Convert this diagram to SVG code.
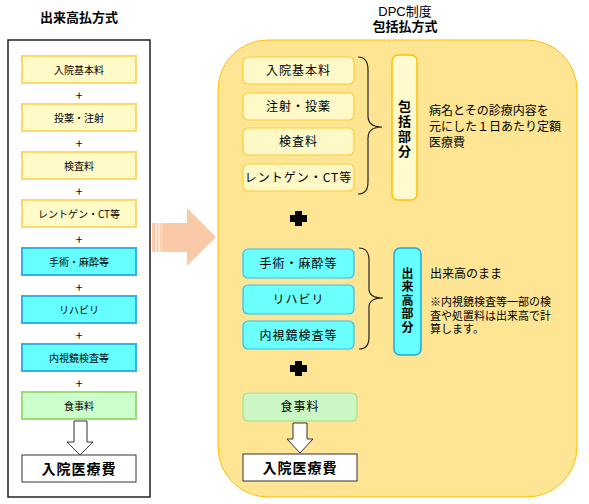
<svg xmlns="http://www.w3.org/2000/svg" width="589" height="504" viewBox="0 0 589 504">
<style>
text{font-family:"Noto Sans CJK JP","Noto Sans",sans-serif;fill:#000}
.t{font-size:13px;font-weight:bold;text-anchor:middle}
.ls{font-size:10px;text-anchor:middle}
.rs{font-size:12px;text-anchor:middle;letter-spacing:1px}
.plus{font-size:12px;text-anchor:middle}
.yl{fill:#FFFBC8;stroke:#FFD966;stroke-width:2}
.cl{fill:#66FFFF;stroke:#2FB4F0;stroke-width:2}
.gl{fill:#CCFFCC;stroke:#99DD77;stroke-width:2}
.yr{fill:#FFF9C8;stroke:#FFCC33;stroke-width:1.2}
.cr{fill:#6CFFFF;stroke:#33BBEE;stroke-width:1.2}
.gr{fill:#CCF7C4;stroke:#A5E08C;stroke-width:1.2}
.wb{fill:#fff;stroke:#333;stroke-width:1}
.harrow{fill:#fff;stroke:#333;stroke-width:1}
.brace{fill:none;stroke:#222;stroke-width:1.2}
.vt{font-weight:bold;text-anchor:middle;writing-mode:vertical-rl;glyph-orientation-vertical:0}
.tight{font-family:"Liberation Sans","Noto Sans CJK JP",sans-serif}
.note{font-size:12px}
.small{font-size:11px}
.fin{font-size:14px;font-weight:bold;text-anchor:middle;letter-spacing:1px}
</style>

<g id="left-title"><text class="t" x="79" y="22">出来高払方式</text></g>
<g id="left-panel"><rect x="8" y="40" width="142" height="457" fill="#fff" stroke="#222" stroke-width="1.5"/></g>

<g id="l1"><rect class="yl" x="22" y="56" width="114" height="27"/><text class="ls" x="79" y="73.5">入院基本料</text></g>
<g id="l2"><rect class="yl" x="22" y="104" width="114" height="27"/><text class="ls" x="79" y="121.5">投薬・注射</text></g>
<g id="l3"><rect class="yl" x="22" y="152" width="114" height="27"/><text class="ls" x="79" y="169.5">検査料</text></g>
<g id="l4"><rect class="yl" x="22" y="200" width="114" height="27"/><text class="ls" x="79" y="217.5">レントゲン・CT等</text></g>
<g id="l5"><rect class="cl" x="22" y="248" width="114" height="27"/><text class="ls" x="79" y="265.5">手術・麻酔等</text></g>
<g id="l6"><rect class="cl" x="22" y="296" width="114" height="27"/><text class="ls" x="79" y="313.5">リハビリ</text></g>
<g id="l7"><rect class="cl" x="22" y="344" width="114" height="27"/><text class="ls" x="79" y="361.5">内視鏡検査等</text></g>
<g id="l8"><rect class="gl" x="22" y="392" width="114" height="27"/><text class="ls" x="79" y="409.5">食事料</text></g>
<g id="left-plus">
<text class="plus" x="79" y="100">+</text>
<text class="plus" x="79" y="148">+</text>
<text class="plus" x="79" y="196">+</text>
<text class="plus" x="79" y="244">+</text>
<text class="plus" x="79" y="292">+</text>
<text class="plus" x="79" y="340">+</text>
<text class="plus" x="79" y="388">+</text>
</g>
<g id="l-arrow"><polygon class="harrow" points="74,421 87,421 87,442 93,442 80,455 67,442 74,442"/></g>
<g id="l-total"><rect class="wb" x="22" y="455" width="114" height="27"/><text class="fin" x="79" y="474">入院医療費</text></g>

<g id="big-arrow">
<polygon points="152,223 187,223 187,208 216,237 187,266 187,252 152,252" fill="#F9C9A8"/>
<line x1="156" y1="223" x2="156" y2="252" stroke="#fff" stroke-width="1"/>
<line x1="159" y1="223" x2="159" y2="252" stroke="#fff" stroke-width="1"/>
<line x1="161.5" y1="223" x2="161.5" y2="252" stroke="#fff" stroke-width="0.8"/>
</g>

<g id="right-title">
<text class="tight" x="405" y="16" font-size="13" text-anchor="middle">DPC制度</text>
<text class="tight" x="405" y="31" font-size="13" font-weight="bold" text-anchor="middle">包括払方式</text>
</g>
<g id="right-panel"><rect x="218" y="40" width="359" height="457" rx="50" ry="50" fill="#FEE594" stroke="#FFC000" stroke-width="1"/></g>

<g id="r1"><rect class="yr" x="243" y="57" width="111" height="27" rx="5"/><text class="rs" x="298.5" y="75">入院基本料</text></g>
<g id="r2"><rect class="yr" x="243" y="93" width="111" height="27" rx="5"/><text class="rs" x="298.5" y="111">注射・投薬</text></g>
<g id="r3"><rect class="yr" x="243" y="128" width="111" height="27" rx="5"/><text class="rs" x="298.5" y="146">検査料</text></g>
<g id="r4"><rect class="yr" x="243" y="164" width="111" height="27" rx="5"/><text class="rs" x="298.5" y="182">レントゲン・CT等</text></g>

<g id="r5"><rect class="cr" x="243" y="249" width="111" height="29" rx="5"/><text class="rs" x="298.5" y="268">手術・麻酔等</text></g>
<g id="r6"><rect class="cr" x="243" y="285" width="111" height="29" rx="5"/><text class="rs" x="298.5" y="304">リハビリ</text></g>
<g id="r7"><rect class="cr" x="243" y="321" width="111" height="28" rx="5"/><text class="rs" x="298.5" y="340">内視鏡検査等</text></g>

<g id="r8"><rect class="gr" x="243" y="393" width="114" height="28" rx="5"/><text class="rs" x="300" y="411">食事料</text></g>

<g id="connectors">
<path class="brace" d="M358,57 Q368,57 368,70 L368,116 Q368,127 382,127 Q368,127 368,138 L368,182 Q368,194 358,194"/>
<path class="brace" d="M359,248 Q369,248 369,260 L369,289 Q369,298 383,298 Q369,298 369,307 L369,337 Q369,349 359,349"/>
<path d="M295,211 h7 v4 h5 v7 h-5 v4 h-7 v-4 h-5 v-7 h5 z" fill="#000"/>
<path d="M295,361 h7 v4 h5 v7 h-5 v4 h-7 v-4 h-5 v-7 h5 z" fill="#000"/>
<polygon class="harrow" points="293,423 307,423 307,439 313,439 300,453 287,439 293,439"/>
</g>

<g id="r-total"><rect class="wb" x="243" y="454" width="114" height="27"/><text class="fin" x="300" y="473">入院医療費</text></g>

<g id="hokatsu-label">
<rect x="392" y="55" width="25" height="145" rx="6" fill="#FFFBCF" stroke="#FFC000" stroke-width="1.5"/>
<text class="vt" x="404.5" y="130" font-size="13" letter-spacing="2">包括部分</text>
</g>
<g id="hokatsu-text">
<text class="note tight" x="429" y="115">病名とその診療内容を</text>
<text class="note tight" x="429" y="131">元にした１日あたり定額</text>
<text class="note tight" x="429" y="147">医療費</text>
</g>

<g id="dekidaka-label">
<rect x="394" y="248" width="27" height="107" rx="6" fill="#66FFFF" stroke="#1FA8E0" stroke-width="1.5"/>
<text class="vt" x="407.5" y="301" font-size="12" letter-spacing="1.5">出来高部分</text>
</g>
<g id="dekidaka-text">
<text class="note" x="430" y="278">出来高のまま</text>
<text class="small tight" x="430" y="306">※内視鏡検査等一部の検</text>
<text class="small tight" x="430" y="320">査や処置料は出来高で計</text>
<text class="small tight" x="430" y="333">算します。</text>
</g>
</svg>
